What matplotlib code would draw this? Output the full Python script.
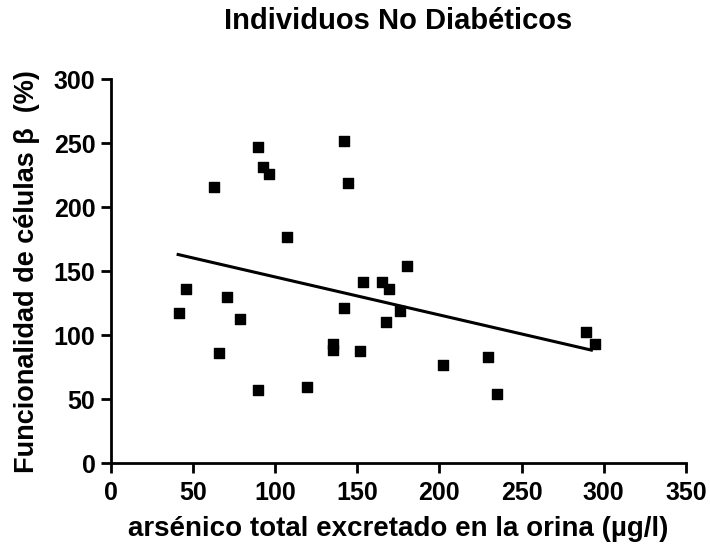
import numpy as np
import matplotlib.pyplot as plt

plt.rcParams['font.family'] = ['Liberation Sans', 'DejaVu Sans']
plt.rcParams['font.weight'] = 'bold'

# arsénico total (µg/l) vs funcionalidad de células beta (%)
arsenico = [41.6, 45.6, 62.8, 66.0, 71.0, 78.5, 89.6, 92.7, 96.4, 89.5,
            107.5, 119.3, 135.4, 135.4, 142.0, 144.1, 141.8, 151.7, 153.6,
            164.8, 169.2, 167.4, 175.9, 180.3, 202.5, 229.6, 235.1, 289.5, 295.0]
funcionalidad = [117, 136, 215.5, 86, 130, 112.5, 247, 231.5, 226, 57,
                 177, 59.6, 93, 88, 251.6, 218.5, 121.3, 87.5, 141.2,
                 141.2, 135.7, 110.4, 119, 154.1, 76.6, 82.6, 53.7, 102.1, 92.7]

# regression line
fit_x = [41.0, 292.5]
fit_y = [163.0, 88.3]

xticks = [0, 50, 100, 150, 200, 250, 300, 350]
yticks = [0, 50, 100, 150, 200, 250, 300]

fig = plt.figure(figsize=(7.1, 5.5), dpi=100)
ax = fig.add_axes([0.156, 0.158, 0.81, 0.698])

ax.scatter(arsenico, funcionalidad, marker='s', s=50, color='black', zorder=3)
ax.plot(fit_x, fit_y, color='black', lw=2.2, zorder=2)

ax.set_xlim(0, 350)
ax.set_ylim(0, 300)
ax.set_xticks(xticks)
ax.set_yticks(yticks)

for side in ['top', 'right']:
    ax.spines[side].set_visible(False)
for side in ['left', 'bottom']:
    ax.spines[side].set_linewidth(2)
ax.tick_params(direction='out', length=7, width=2, labelsize=18)
ax.tick_params(axis='x', pad=6)
ax.tick_params(axis='y', pad=4)
for lab in ax.get_xticklabels() + ax.get_yticklabels():
    lab.set_fontweight('bold')

ax.set_xlabel('arsénico total excretado en la orina (µg/l)', fontsize=20,
              fontweight='bold', labelpad=8)
ax.set_ylabel('Funcionalidad de células β  (%)', fontsize=19.5,
              fontweight='bold', labelpad=10)
ax.set_title('Individuos No Diabéticos', fontsize=21, fontweight='bold', pad=36)

fig.savefig('out.png', dpi=100)
